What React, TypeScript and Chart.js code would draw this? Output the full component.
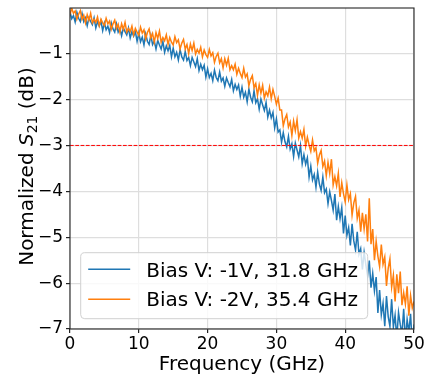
import React, { useEffect, useRef } from "react";
import { Chart, registerables } from "chart.js";

Chart.register(...registerables);

// Sampling grid of the measurement (GHz)
const FREQ_START = 0;
const FREQ_STEP = 0.25;

// Normalized S21 (dB), bias -1 V
const BLUE_VALUES: number[] = [
  -0.09, -0.24, -0.17, -0.31,
  -0.10, -0.23, -0.30, -0.12,
  -0.30, -0.22, -0.39, -0.22,
  -0.30, -0.37, -0.22, -0.44,
  -0.30, -0.40, -0.29, -0.50,
  -0.33, -0.48, -0.40, -0.54,
  -0.33, -0.46, -0.53, -0.35,
  -0.53, -0.45, -0.61, -0.44,
  -0.52, -0.59, -0.44, -0.66,
  -0.52, -0.62, -0.52, -0.73,
  -0.55, -0.74, -0.64, -0.81,
  -0.57, -0.73, -0.80, -0.60,
  -0.80, -0.72, -0.90, -0.71,
  -0.81, -0.90, -0.73, -0.97,
  -0.83, -0.94, -0.82, -1.07,
  -0.88, -1.07, -0.97, -1.14,
  -0.91, -1.07, -1.14, -0.95,
  -1.15, -1.08, -1.26, -1.08,
  -1.18, -1.28, -1.11, -1.37,
  -1.23, -1.35, -1.25, -1.51,
  -1.33, -1.52, -1.43, -1.59,
  -1.36, -1.52, -1.59, -1.40,
  -1.60, -1.53, -1.71, -1.53,
  -1.63, -1.72, -1.56, -1.81,
  -1.67, -1.78, -1.68, -1.93,
  -1.73, -1.95, -1.84, -2.05,
  -1.77, -1.95, -2.05, -1.81,
  -2.07, -1.98, -2.21, -1.99,
  -2.12, -2.24, -2.06, -2.38,
  -2.23, -2.40, -2.28, -2.62,
  -2.42, -2.71, -2.66, -2.93,
  -2.72, -2.92, -3.03, -2.80,
  -3.08, -2.96, -3.24, -2.95,
  -3.10, -3.25, -3.00, -3.40,
  -3.20, -3.41, -3.27, -3.69,
  -3.45, -3.75, -3.63, -3.91,
  -3.58, -3.84, -3.98, -3.69,
  -4.03, -3.95, -4.27, -4.01,
  -4.20, -4.41, -4.06, -4.63,
  -4.33, -4.60, -4.35, -4.92,
  -4.53, -4.96, -4.79, -5.18,
  -4.71, -5.08, -5.28, -4.88,
  -5.37, -5.25, -5.70, -5.33,
  -5.60, -5.84, -5.51, -6.10,
  -5.79, -6.17, -5.87, -6.65,
  -6.15, -6.69, -6.44, -6.94,
  -6.28, -6.73, -6.94, -6.35,
  -6.96, -6.70, -7.21, -6.64,
  -6.90, -7.11, -6.56, -7.26,
  -6.79, -7.07, -6.67, -7.35,
  -6.90,
];

// Normalized S21 (dB), bias -2 V
const ORANGE_VALUES: number[] = [
  -0.15, -0.01, -0.12, -0.07,
  -0.25, -0.14, -0.06, -0.25,
  -0.16, -0.33, -0.15, -0.27,
  -0.12, -0.33, -0.25, -0.32,
  -0.20, -0.39, -0.25, -0.33,
  -0.39, -0.23, -0.35, -0.29,
  -0.47, -0.35, -0.27, -0.45,
  -0.36, -0.53, -0.35, -0.47,
  -0.32, -0.53, -0.45, -0.52,
  -0.40, -0.59, -0.45, -0.53,
  -0.60, -0.42, -0.55, -0.48,
  -0.68, -0.54, -0.46, -0.66,
  -0.56, -0.75, -0.54, -0.67,
  -0.51, -0.75, -0.65, -0.72,
  -0.59, -0.80, -0.65, -0.75,
  -0.81, -0.63, -0.76, -0.70,
  -0.90, -0.77, -0.69, -0.90,
  -0.80, -1.00, -0.79, -0.93,
  -0.77, -1.01, -0.91, -0.99,
  -0.86, -1.07, -0.92, -1.02,
  -1.08, -0.91, -1.05, -0.98,
  -1.19, -1.06, -0.99, -1.20,
  -1.11, -1.31, -1.11, -1.25,
  -1.10, -1.35, -1.26, -1.35,
  -1.23, -1.45, -1.32, -1.43,
  -1.52, -1.32, -1.51, -1.44,
  -1.70, -1.56, -1.48, -1.74,
  -1.65, -1.91, -1.68, -1.86,
  -1.69, -1.97, -1.83, -1.92,
  -1.73, -1.98, -1.78, -1.93,
  -2.10, -1.97, -2.23, -2.23,
  -2.57, -2.42, -2.33, -2.60,
  -2.49, -2.78, -2.47, -2.68,
  -2.44, -2.84, -2.70, -2.84,
  -2.65, -3.02, -2.82, -2.99,
  -3.13, -2.88, -3.12, -3.05,
  -3.39, -3.21, -3.11, -3.46,
  -3.34, -3.66, -3.37, -3.61,
  -3.30, -3.86, -3.68, -3.88,
  -3.61, -4.12, -3.81, -4.05,
  -4.23, -3.86, -4.18, -4.05,
  -4.52, -4.25, -4.11, -4.59,
  -4.41, -4.88, -4.47, -4.82,
  -4.50, -5.09, -4.15, -5.15,
  -4.82, -5.50, -5.09, -5.41,
  -5.64, -5.16, -5.59, -5.43,
  -6.06, -5.68, -5.47, -6.09,
  -5.83, -6.40, -5.81, -6.22,
  -5.75, -6.48, -6.21, -6.46,
  -6.07, -6.71, -6.27, -6.54,
  -6.40,
];

const SERIES_LABELS = ["Bias V: -1V, 31.8 GHz", "Bias V: -2V, 35.4 GHz"];
const SERIES_COLORS = ["#1f77b4", "#ff7f0e"];
const THRESHOLD_DB = -3;
const X_TICKS = [0, 10, 20, 30, 40, 50];
const Y_TICKS = [-7, -6, -5, -4, -3, -2, -1];
const X_RANGE = [0, 50];
const Y_RANGE = [-7, -0.005];

const FONT = "'DejaVu Sans', sans-serif";

const fmt = (v: number) => (v < 0 ? "\u2212" + Math.abs(v) : String(v));

const overlayPlugin = {
  id: "overlay",
  afterDatasetsDraw(chart: any) {
    const { ctx, chartArea: a } = chart;
    ctx.save();
    ctx.strokeStyle = "#262626";
    ctx.lineWidth = 1.1;
    ctx.strokeRect(a.left, a.top, a.right - a.left, a.bottom - a.top);
    ctx.restore();
  },
  afterDraw(chart: any) {
    const { ctx, chartArea: a } = chart;
    ctx.save();
    // Legend box
    const lx = a.left + 10.7, ly = a.bottom - 76.3, lw = 287, lh = 66, r = 4;
    ctx.beginPath();
    ctx.moveTo(lx + r, ly);
    ctx.lineTo(lx + lw - r, ly);
    ctx.quadraticCurveTo(lx + lw, ly, lx + lw, ly + r);
    ctx.lineTo(lx + lw, ly + lh - r);
    ctx.quadraticCurveTo(lx + lw, ly + lh, lx + lw - r, ly + lh);
    ctx.lineTo(lx + r, ly + lh);
    ctx.quadraticCurveTo(lx, ly + lh, lx, ly + lh - r);
    ctx.lineTo(lx, ly + r);
    ctx.quadraticCurveTo(lx, ly, lx + r, ly);
    ctx.closePath();
    ctx.fillStyle = "rgba(255,255,255,0.8)";
    ctx.fill();
    ctx.strokeStyle = "#d0d0d0";
    ctx.lineWidth = 1;
    ctx.stroke();
    ctx.font = `20px ${FONT}`;
    ctx.textBaseline = "alphabetic";
    ctx.textAlign = "left";
    SERIES_LABELS.forEach((lab, i) => {
      const yLine = ly + 16.5 + i * 30;
      ctx.strokeStyle = SERIES_COLORS[i];
      ctx.lineWidth = 1.5;
      ctx.beginPath();
      ctx.moveTo(lx + 7.5, yLine);
      ctx.lineTo(lx + 49.5, yLine);
      ctx.stroke();
      ctx.fillStyle = "#000";
      ctx.fillText(lab, lx + 65.5, ly + 23.8 + i * 29.7);
    });

    // X axis title
    ctx.font = `20px ${FONT}`;
    ctx.textAlign = "center";
    ctx.fillStyle = "#000";
    ctx.fillText("Frequency (GHz)", (a.left + a.right) / 2, 369.7);

    // Y axis title with italic S and subscript 21
    const parts = [
      { t: "Normalized ", f: `20px ${FONT}`, dy: 0 },
      { t: "S", f: `italic 20px ${FONT}`, dy: 0 },
      { t: "21", f: `14px ${FONT}`, dy: 3.5 },
      { t: " (dB)", f: `20px ${FONT}`, dy: 0 },
    ];
    let total = 0;
    const widths = parts.map((p) => {
      ctx.font = p.f;
      const w = ctx.measureText(p.t).width;
      total += w;
      return w;
    });
    ctx.translate(33.3, (a.top + a.bottom) / 2 - 2);
    ctx.rotate(-Math.PI / 2);
    ctx.textAlign = "left";
    let x = -total / 2;
    parts.forEach((p, i) => {
      ctx.font = p.f;
      ctx.fillText(p.t, x, p.dy);
      x += widths[i];
    });
    ctx.restore();
  },
};

export default function App() {
  const ref = useRef<HTMLCanvasElement | null>(null);

  useEffect(() => {
    if (!ref.current) return;
    const bluePts = BLUE_VALUES.map((y, i) => ({ x: FREQ_START + i * FREQ_STEP, y }));
    const orangePts = ORANGE_VALUES.map((y, i) => ({ x: FREQ_START + i * FREQ_STEP, y }));
    const chart = new Chart(ref.current, {
      type: "line",
      data: {
        datasets: [
          {
            label: "-3 dB",
            data: [
              { x: X_RANGE[0], y: THRESHOLD_DB },
              { x: X_RANGE[1], y: THRESHOLD_DB },
            ],
            borderColor: "#ff0000",
            borderWidth: 1,
            borderDash: [3.7, 1.6],
            pointRadius: 0,
            order: 0,
          },
          {
            label: SERIES_LABELS[1],
            data: orangePts,
            borderColor: SERIES_COLORS[1],
            borderWidth: 1.5,
            pointRadius: 0,
            tension: 0,
            order: 1,
          },
          {
            label: SERIES_LABELS[0],
            data: bluePts,
            borderColor: SERIES_COLORS[0],
            borderWidth: 1.5,
            pointRadius: 0,
            tension: 0,
            order: 2,
          },
        ],
      },
      options: {
        animation: false,
        responsive: false,
        layout: { padding: { left: 0, right: 11, top: 8, bottom: 0 } },
        plugins: { legend: { display: false }, tooltip: { enabled: false } },
        scales: {
          x: {
            type: "linear",
            min: X_RANGE[0],
            max: X_RANGE[1],
            afterBuildTicks: (axis: any) => {
              axis.ticks = X_TICKS.map((v) => ({ value: v }));
            },
            afterFit: (axis: any) => {
              axis.height = 45;
              axis.paddingLeft = 0;
              axis.paddingRight = 0;
            },
            ticks: {
              font: { family: FONT, size: 17 },
              color: "#000",
              padding: 1,
              maxRotation: 0,
              autoSkip: false,
              callback: (v: any) => fmt(Number(v)),
            },
            grid: { color: "#dedede", lineWidth: 1.2, tickColor: "#222", tickLength: 4 },
            border: { display: false },
          },
          y: {
            type: "linear",
            min: Y_RANGE[0],
            max: Y_RANGE[1],
            afterBuildTicks: (axis: any) => {
              axis.ticks = Y_TICKS.map((v) => ({ value: v }));
            },
            afterFit: (axis: any) => {
              axis.width = 70;
              axis.paddingTop = 0;
              axis.paddingBottom = 0;
            },
            ticks: {
              font: { family: FONT, size: 17 },
              color: "#000",
              padding: 3,
              autoSkip: false,
              callback: (v: any) => fmt(Number(v)),
            },
            grid: { color: "#dedede", lineWidth: 1.2, tickColor: "#222", tickLength: 4 },
            border: { display: false },
          },
        },
      },
      plugins: [overlayPlugin],
    });
    return () => chart.destroy();
  }, []);

  return (
    <div style={{ position: "absolute", left: 0, top: 0, width: 425, height: 374, background: "#fff" }}>
      <canvas ref={ref} width={425} height={374} style={{ width: 425, height: 374 }} />
    </div>
  );
}
